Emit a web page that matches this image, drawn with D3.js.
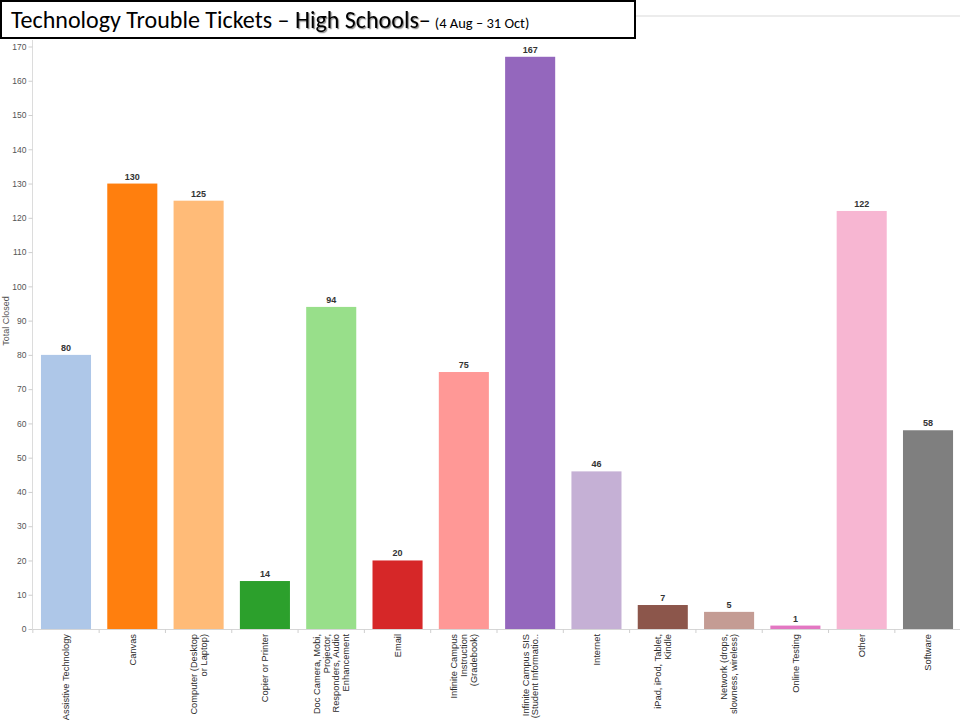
<!DOCTYPE html>
<html>
<head>
<meta charset="utf-8">
<script src="https://cdn.jsdelivr.net/npm/d3@7"></script>
<style>
  html, body { margin: 0; padding: 0; background: #fff; }
  svg { display: block; }
  text { white-space: pre; }
</style>
</head>
<body>
<script>
const titleMain = "Technology Trouble Tickets \u2013\u00a0";
const titleBold = "High Schools";
const titleDash = "\u2013";
const titleSub = "(4 Aug \u2013 31 Oct)";
const yAxisTitle = "Total Closed";

const categories = [
  "Assistive Technology",
  "Canvas",
  "Computer (Desktop\nor Laptop)",
  "Copier or Printer",
  "Doc Camera, Mobi,\nProjector,\nResponders, Audio\nEnhancement",
  "Email",
  "Infinite Campus\nInstruction\n(Gradebook)",
  "Infinite Campus SIS\n(Student Informatio..",
  "Internet",
  "iPad, iPod, Tablet,\nKindle",
  "Network (drops,\nslowness, wireless)",
  "Online Testing",
  "Other",
  "Software"
];
const values = [80, 130, 125, 14, 94, 20, 75, 167, 46, 7, 5, 1, 122, 58];
const colors = ["#aec7e8", "#ff7f0e", "#ffbb78", "#2ca02c", "#98df8a", "#d62728", "#ff9896",
                "#9467bd", "#c5b0d5", "#8c564b", "#c49c94", "#e377c2", "#f7b6d2", "#7f7f7f"];
const yTicks = d3.range(0, 171, 10);

const W = 960, H = 720;
const svg = d3.select("body").append("svg").attr("width", W).attr("height", H);

const defs = svg.append("defs");
const f = defs.append("filter").attr("id", "shadow").attr("x", "-10%").attr("y", "-10%").attr("width", "130%").attr("height", "140%");
f.append("feDropShadow").attr("dx", 1.2).attr("dy", 1.2).attr("stdDeviation", 0.6)
  .attr("flood-color", "#000").attr("flood-opacity", 0.45);

const x = d3.scaleBand().domain(categories).range([33, 961]).paddingInner(0.245).paddingOuter(0.12);
const y = d3.scaleLinear().domain([0, 170]).range([629, 46.5]);

// top-right faint rule
svg.append("line").attr("x1", 636).attr("x2", 960).attr("y1", 16).attr("y2", 16)
  .attr("stroke", "#e6e6e6").attr("stroke-width", 1.5);

// Y axis
svg.append("line").attr("x1", 32.5).attr("x2", 32.5).attr("y1", 40).attr("y2", 629)
  .attr("stroke", "#dcdcdc").attr("stroke-width", 1);
const yAxis = d3.axisLeft(y).tickValues(yTicks).tickSize(4).tickPadding(2).tickFormat(d3.format("d"));
const yg = svg.append("g").attr("transform", "translate(32.5,0)").call(yAxis);
yg.select(".domain").remove();
yg.selectAll(".tick line").attr("stroke", "#cfcfcf");
yg.selectAll(".tick text").attr("fill", "#555").style("font-family", "Arial, 'Liberation Sans', sans-serif").style("font-size", "8.5px");

svg.append("text").attr("transform", "translate(9,321) rotate(-90)")
  .attr("text-anchor", "middle")
  .style("font-family", "Arial, 'Liberation Sans', sans-serif").style("font-size", "9px").attr("fill", "#555")
  .text(yAxisTitle);

// Bars
svg.append("g").selectAll("rect").data(categories).join("rect")
  .attr("x", d => x(d)).attr("width", x.bandwidth())
  .attr("y", (d, i) => y(values[i])).attr("height", (d, i) => y(0) - y(values[i]))
  .attr("fill", (d, i) => colors[i]);

// Value labels
svg.append("g").selectAll("text").data(categories).join("text")
  .attr("x", d => x(d) + x.bandwidth() / 2)
  .attr("y", (d, i) => y(values[i]) - 4)
  .attr("text-anchor", "middle")
  .style("font-family", "Arial, 'Liberation Sans', sans-serif").style("font-size", "9px").style("font-weight", "bold")
  .attr("fill", "#333")
  .text((d, i) => values[i]);

// X axis baseline and boundary ticks
svg.append("line").attr("x1", 32.5).attr("x2", 960).attr("y1", 629.5).attr("y2", 629.5)
  .attr("stroke", "#d6d6d6");
const step = x.step();
const bounds = categories.map(d => x(d) + x.bandwidth() / 2 - step / 2);
svg.append("g").selectAll("line").data(bounds).join("line")
  .attr("x1", d => d).attr("x2", d => d).attr("y1", 629.5).attr("y2", 633)
  .attr("stroke", "#cfcfcf");

// X labels
const lineH = 9.9;
const lg = svg.append("g").selectAll("g").data(categories).join("g")
  .attr("transform", d => `translate(${x(d) + x.bandwidth() / 2},634) rotate(-90)`);
lg.each(function(d) {
  const lines = d.split("\n");
  const n = lines.length;
  const t = d3.select(this).append("text")
    .attr("text-anchor", "end")
    .style("font-family", "Arial, 'Liberation Sans', sans-serif").style("font-size", "9.3px")
    .attr("fill", "#2b2b2b");
  lines.forEach((ln, i) => {
    t.append("tspan").attr("x", 0).attr("y", (i - (n - 1) / 2) * lineH + 3.3).text(ln);
  });
});

// Title box
svg.append("rect").attr("x", 1).attr("y", 1).attr("width", 634).attr("height", 37)
  .attr("fill", "#fff").attr("stroke", "#000").attr("stroke-width", 2);
const tfont = "Carlito, Calibri, Lato, 'Open Sans', sans-serif";
const t1 = svg.append("text").attr("x", 11).attr("y", 27.5)
  .style("font-family", tfont).style("font-size", "22px").attr("fill", "#000").text(titleMain);
let w1 = t1.node().getComputedTextLength();
const t2 = svg.append("text").attr("x", 11 + w1).attr("y", 27.5)
  .style("font-family", tfont).style("font-size", "22px").attr("fill", "#000")
  .attr("filter", "url(#shadow)").text(titleBold);
let w2 = t2.node().getComputedTextLength();
const t3 = svg.append("text").attr("x", 11 + w1 + w2).attr("y", 27.5)
  .style("font-family", tfont).style("font-size", "22px").attr("fill", "#000").text(titleDash);
let w3 = t3.node().getComputedTextLength();
// fit main title to span 11..431
const total = w1 + w2 + w3;
const target = 420;
const s = target / total;
const fs = Math.max(20, Math.min(24.5, 22 * s));
[t1, t2, t3].forEach(t => t.style("font-size", fs + "px"));
w1 = t1.node().getComputedTextLength();
w2 = t2.node().getComputedTextLength();
w3 = t3.node().getComputedTextLength();
t2.attr("x", 11 + w1);
t3.attr("x", 11 + w1 + w2);
const subX = Math.max(434, 11 + w1 + w2 + w3 + 4);
const t4 = svg.append("text").attr("x", subX).attr("y", 27.5)
  .style("font-family", tfont).style("font-size", "14px").attr("fill", "#000").text(titleSub);
const w4 = t4.node().getComputedTextLength();
t4.style("font-size", Math.min(14.5, 14 * 105 / w4) + "px");
</script>
</body>
</html>
